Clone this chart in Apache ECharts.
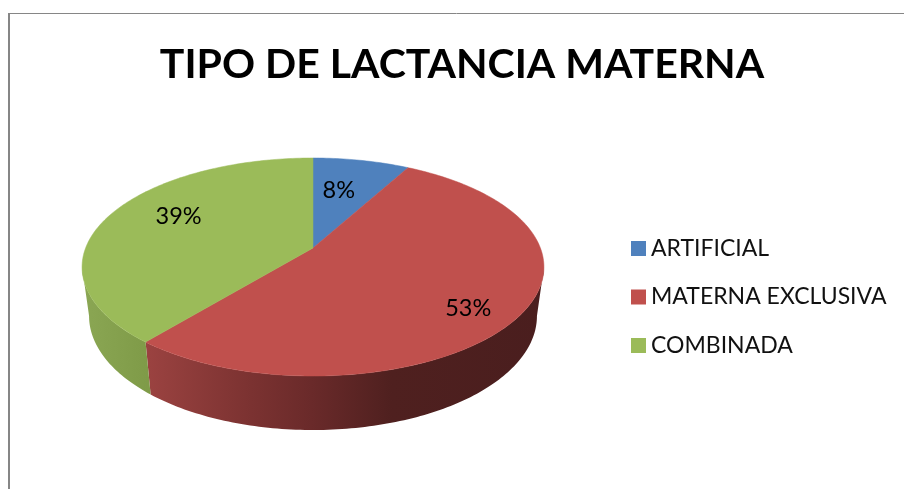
<!DOCTYPE html>
<html>
<head>
<meta charset="utf-8">
<style>html,body{margin:0;padding:0;background:#fff}#c{width:904px;height:489px}</style>
<script src="https://cdn.jsdelivr.net/npm/echarts@6/dist/echarts.min.js"></script>
</head>
<body>
<div id="c"></div>
<script>
const titleText = 'TIPO DE LACTANCIA MATERNA';
const categories = ['ARTIFICIAL', 'MATERNA EXCLUSIVA', 'COMBINADA'];
const values = [8, 53, 39];
const topColors = ['#4f81bd', '#c0504d', '#9bbb59'];

// Layout of the tilted pie (perspective projection of a disc).
const CX = 313, CY = 248, A = 227.4, B = 105.7, K = -0.1743;
const ELL_CY = 267, ELL_RX = 231, ELL_RY = 109;
const BASE_CY = 316, BASE_RX = 224, BASE_RY = 114;
const FRONT_START = 100, FRONT_END = 260;
const LABEL_R = [0.62, 0.81, 0.70];
const LABEL_NUDGE = [-2.7, 5.8, 7.2];
const FONT = 'Lato, "Open Sans", sans-serif';

const wallFills = [
  null,
  { type: 'linear', x: 143, y: 0, x2: 544, y2: 0, global: true, colorStops: [
    { offset: 0, color: '#9c4341' }, { offset: 0.27, color: '#7b3231' },
    { offset: 0.42, color: '#6a2a2a' }, { offset: 0.62, color: '#4f201f' }, { offset: 1, color: '#4a1e1e' } ] },
  { type: 'linear', x: 86, y: 0, x2: 147, y2: 0, global: true, colorStops: [
    { offset: 0, color: '#8aa653' }, { offset: 1, color: '#7f9b48' } ] }
];

const total = values.reduce((a, b) => a + b, 0);
function disc(deg, r) {
  const t = deg * Math.PI / 180, u = r * Math.sin(t), v = -r * Math.cos(t), d = 1 + K * v;
  return [CX + A * u / d, CY + B * v / d];
}
function base(p) {
  return [CX + (p[0] - CX) * BASE_RX / ELL_RX, BASE_CY + (p[1] - ELL_CY) * BASE_RY / ELL_RY];
}
function arc(a0, a1) {
  const pts = [], n = Math.max(2, Math.ceil(Math.abs(a1 - a0)));
  for (let i = 0; i <= n; i++) pts.push(disc(a0 + (a1 - a0) * i / n, 1));
  return pts;
}
function renderSlice(params, api) {
  const i = params.seriesIndex;
  const before = values.slice(0, i).reduce((a, b) => a + b, 0);
  const a0 = before / total * 360, a1 = a0 + api.value(0) / total * 360;
  const children = [];
  const w0 = Math.max(a0, FRONT_START), w1 = Math.min(a1, FRONT_END);
  if (w1 > w0 && wallFills[i]) {
    const rim = arc(w0, w1);
    children.push({ type: 'polygon', shape: { points: rim.concat(rim.map(base).reverse()) },
      style: { fill: wallFills[i], stroke: null } });
  }
  children.push({ type: 'polygon', shape: { points: [disc(0, 0)].concat(arc(a0, a1)) },
    style: { fill: topColors[i], stroke: topColors[i], lineWidth: 0.5 } });
  const lp = disc((a0 + a1) / 2 + LABEL_NUDGE[i], LABEL_R[i]);
  children.push({ type: 'text', z2: 10, style: { text: api.value(0) + '%', x: lp[0], y: lp[1],
    align: 'center', verticalAlign: 'middle', fill: '#000', font: '23.5px ' + FONT } });
  return { type: 'group', children };
}

const chart = echarts.init(document.getElementById('c'), null, { width: 904, height: 489, renderer: 'canvas' });
chart.setOption({
  animation: false,
  backgroundColor: '#fff',
  title: { text: titleText, left: 457, textAlign: 'center', top: 39,
    textStyle: { fontFamily: FONT, fontWeight: 'bold', fontSize: 41, color: '#000' } },
  legend: { orient: 'vertical', left: 626, top: 232, itemWidth: 15, itemHeight: 15, itemGap: 25.5,
    icon: 'rect', data: categories, selectedMode: false,
    textStyle: { fontFamily: FONT, fontSize: 23, color: '#111', lineHeight: 23 } },
  graphic: [
    { type: 'line', silent: true, shape: { x1: 9, y1: 13.5, x2: 904, y2: 13.5 }, style: { stroke: '#868686', lineWidth: 1 } },
    { type: 'line', silent: true, shape: { x1: 9, y1: 13, x2: 9, y2: 489 }, style: { stroke: '#868686', lineWidth: 2 } }
  ],
  series: categories.map((name, i) => ({
    type: 'custom', name, coordinateSystem: 'none', silent: true,
    itemStyle: { color: topColors[i] },
    renderItem: renderSlice, data: [[values[i]]]
  }))
});
</script>
</body>
</html>
